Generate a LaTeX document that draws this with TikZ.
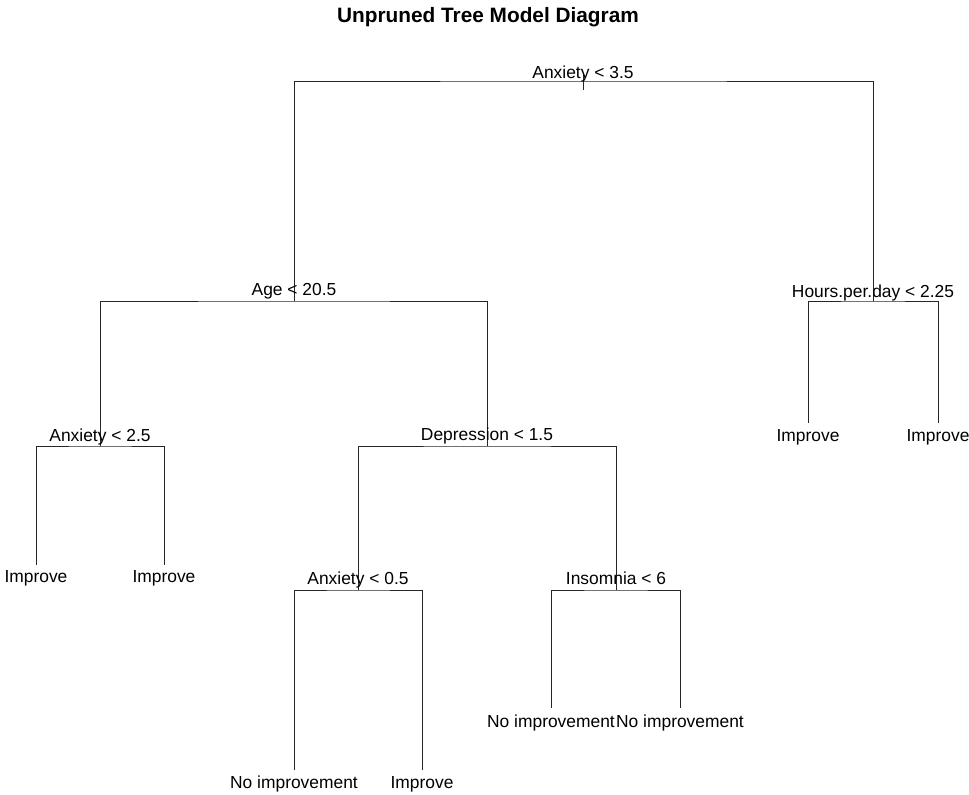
\documentclass[tikz,border=0pt]{standalone}
\usepackage{fontspec}
\setmainfont{Liberation Sans}
\begin{document}
\begin{tikzpicture}[x=1pt,y=-1pt,
  lab/.style={font=\fontsize{17.4}{20}\selectfont, anchor=base, inner sep=0pt},
  edge/.style={draw=black!85, line width=0.8pt}]
\useasboundingbox (0,0) rectangle (969,795);
% title
\node[font=\bfseries\fontsize{20.8}{24}\selectfont, anchor=base, inner sep=0pt] (title) at (488,22) {Unpruned Tree Model Diagram};
% split points
\coordinate (root) at (583,81);
\coordinate (age) at (294,301);
\coordinate (hrs) at (873,301);
\coordinate (a25) at (100,446);
\coordinate (dep) at (487,446);
\coordinate (a05) at (358,590);
\coordinate (ins) at (616,590);
% leaf ends
\coordinate (h1) at (808,423);
\coordinate (h2) at (938,423);
\coordinate (l1) at (36,565);
\coordinate (l2) at (164,565);
\coordinate (n1) at (294,770);
\coordinate (n2) at (422,770);
\coordinate (n3) at (551,708);
\coordinate (n4) at (680,708);
\coordinate (rtop) at (583,74);
\coordinate (rbot) at (583,90);
% edges
\draw[edge] (rtop) -- (rbot);
\draw[edge] (age) |- (root) -| (hrs);
\draw[edge] (a25) |- (age) -| (dep);
\draw[edge] (h1) |- (hrs) -| (h2);
\draw[edge] (l1) |- (a25) -| (l2);
\draw[edge] (a05) |- (dep) -| (ins);
\draw[edge] (n1) |- (a05) -| (n2);
\draw[edge] (n3) |- (ins) -| (n4);
% split labels
\node[lab] (Lroot) at (583,78) {Anxiety < 3.5};
\node[lab] (Lage) at (294,295) {Age < 20.5};
\node[lab] (Lhrs) at (873,297) {Hours.per.day < 2.25};
\node[lab] (La25) at (100,441) {Anxiety < 2.5};
\node[lab] (Ldep) at (487,440) {Depression < 1.5};
\node[lab] (La05) at (358,584) {Anxiety < 0.5};
\node[lab] (Lins) at (616,584) {Insomnia < 6};
% leaf labels
\node[lab] (Th1) at (808,441) {Improve};
\node[lab] (Th2) at (938,441) {Improve};
\node[lab] (Tl1) at (36,582) {Improve};
\node[lab] (Tl2) at (164,582) {Improve};
\node[lab] (Tn1) at (294,788) {No improvement};
\node[lab] (Tn2) at (422,788) {Improve};
\node[lab] (Tn3) at (551,727) {No improvement};
\node[lab] (Tn4) at (680,727) {No improvement};
\end{tikzpicture}
\end{document}
